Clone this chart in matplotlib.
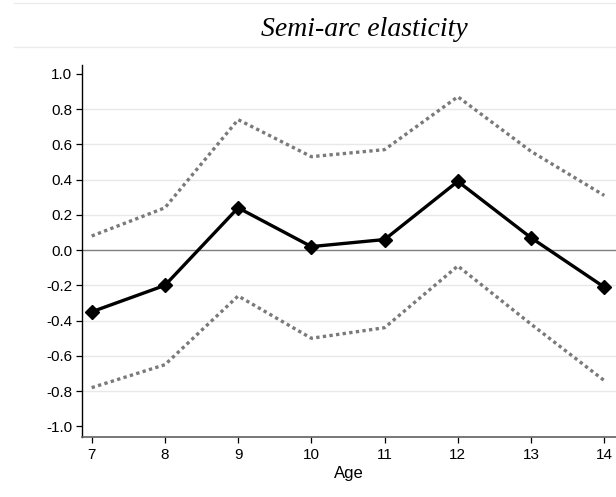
import matplotlib
matplotlib.use("Agg")
import matplotlib.pyplot as plt
from matplotlib.lines import Line2D

ages = [7, 8, 9, 10, 11, 12, 13, 14]
estimate = [-0.35, -0.20, 0.24, 0.02, 0.06, 0.39, 0.07, -0.21]
upper_ci = [0.08, 0.24, 0.74, 0.53, 0.57, 0.87, 0.56, 0.31]
lower_ci = [-0.78, -0.65, -0.26, -0.50, -0.44, -0.09, -0.42, -0.74]
y_ticks = [-1.0, -0.8, -0.6, -0.4, -0.2, 0.0, 0.2, 0.4, 0.6, 0.8, 1.0]

plt.rcParams['font.family'] = ['Liberation Sans', 'DejaVu Sans']

W, H = 616, 497
fig = plt.figure(figsize=(W / 100, H / 100), dpi=100)

# axes box in pixel terms
left, right, top, bottom = 82, 616, 65, 437
ax = fig.add_axes([left / W, 1 - bottom / H, (right - left) / W, (bottom - top) / H])

# title band lines
for yy in (3, 47):
    fig.add_artist(Line2D([14 / W, 1.0], [1 - yy / H, 1 - yy / H],
                          color='#ebebeb', lw=1.0, transform=fig.transFigure))
fig.text(364 / W, 1 - 36 / H, 'Semi-arc elasticity', ha='center', va='baseline',
         fontsize=20, style='italic', family=['Liberation Serif', 'DejaVu Serif'])

for v in y_ticks:
    if abs(v) < 1e-9 or abs(abs(v) - 1.0) < 1e-9:
        continue
    ax.axhline(v, color='#e8e8e8', lw=1.0, zorder=0)
ax.axhline(0.0, color='#7f7f7f', lw=1.0, zorder=1)

ax.plot(ages, upper_ci, color='#7a7a7a', lw=2.4, linestyle=(0, (1, 1)), zorder=2)
ax.plot(ages, lower_ci, color='#7a7a7a', lw=2.4, linestyle=(0, (1, 1)), zorder=2)
ax.plot(ages, estimate, color='black', lw=2.4, marker='D', markersize=7, zorder=3)

ax.set_xlim(6.868, 14.16)
ax.set_ylim(-1.06, 1.05)
ax.set_xticks(ages)
ax.set_yticks(y_ticks)
ax.set_yticklabels([f'{v:.1f}' for v in y_ticks])
ax.tick_params(axis='both', labelsize=11, length=4, width=0.9, color='black', pad=3)
ax.tick_params(axis='x', pad=4)
ax.set_xlabel('Age', fontsize=12, labelpad=3)

for s in ('top', 'right'):
    ax.spines[s].set_visible(False)
ax.spines['left'].set_color('black')
ax.spines['left'].set_linewidth(1.0)
ax.spines['bottom'].set_color('#606060')
ax.spines['bottom'].set_linewidth(1.2)

fig.savefig('out.png', dpi=100)
